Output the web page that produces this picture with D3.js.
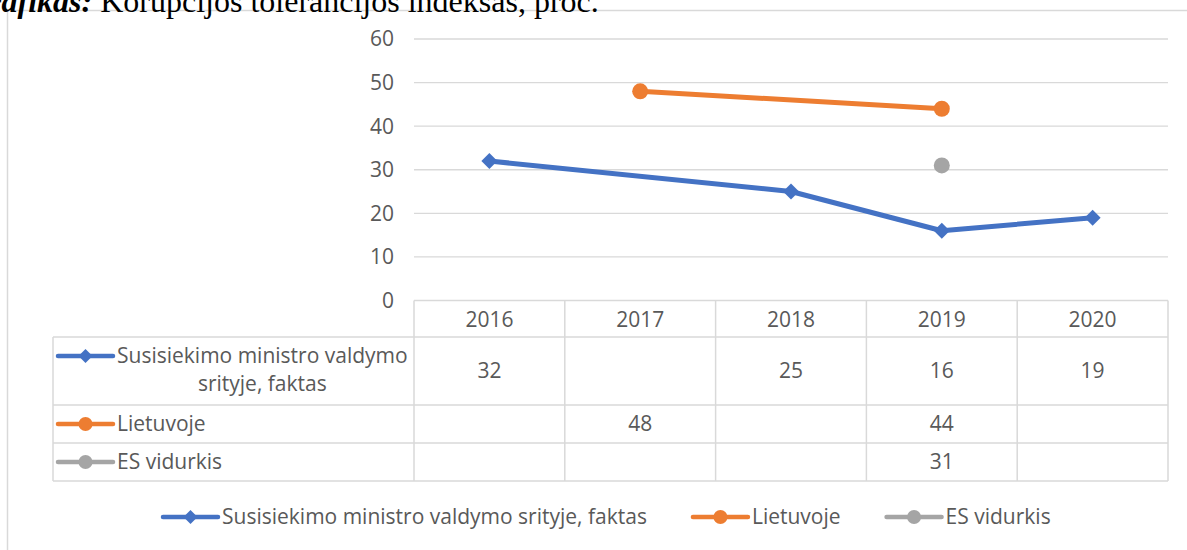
<!DOCTYPE html>
<html><head><meta charset="utf-8">
<script src="https://cdn.jsdelivr.net/npm/d3@7"></script>
<style>
html,body{margin:0;padding:0;background:#fff;}
svg{display:block;}
</style></head>
<body>
<svg id="c" width="1187" height="550"></svg>
<script>
const years = ["2016","2017","2018","2019","2020"];
const seriesNames = ["Susisiekimo ministro valdymo srityje, faktas","Lietuvoje","ES vidurkis"];
const blueValues = [32, null, 25, 16, 19];
const orangeValues = [null, 48, null, 44, null];
const grayValues = [null, null, null, 31, null];
const yTicks = [0,10,20,30,40,50,60];
const titleBold = "Grafikas:";
const titleRest = " Korupcijos tolerancijos indeksas, proc.";

const colors = ["#4472C4","#ED7D31","#A5A5A5"];
const markers = ["diamond","circle","circle"];
const series = [blueValues, orangeValues, grayValues].map((v,i)=>({name:seriesNames[i], values:v, color:colors[i], marker:markers[i]}));

const svg = d3.select("#c");
const FONT = "'Open Sans', 'Noto Sans', sans-serif";
const FS = 21;
const TXT = "#595959";
const GRID = "#d9d9d9";

// outer frame
svg.append("rect").attr("x",7.5).attr("y",10.5).attr("width",1300).attr("height",700)
  .attr("fill","none").attr("stroke",GRID).attr("stroke-width",1.5);

// title
const t = svg.append("text").attr("x",-34).attr("y",12)
  .attr("font-family","'Liberation Serif','Times New Roman',serif").attr("font-size",32).attr("fill","#000");
t.append("tspan").attr("font-weight","bold").attr("font-style","italic").text(titleBold);
t.append("tspan").text(titleRest);

const x = d3.scaleBand().domain(years).range([414,1168]);
const y = d3.scaleLinear().domain([0,60]).range([300.5,39]);

// gridlines
svg.append("g").selectAll("line").data(yTicks.filter(d=>d>0)).join("line")
  .attr("x1",414).attr("x2",1168).attr("y1",d=>y(d)).attr("y2",d=>y(d))
  .attr("stroke",GRID).attr("stroke-width",1.4);

// y axis labels
const yAxis = d3.axisLeft(y).tickValues(yTicks).tickSize(0).tickPadding(0);
const ya = svg.append("g").attr("transform","translate(394,0)").call(yAxis);
ya.select(".domain").remove();
ya.selectAll("text").attr("font-family",FONT).attr("font-size",FS).attr("fill",TXT).attr("dy","0.33em");

// table
const rowTops = [300.5, 337, 405, 443, 481];
const tableLeft = 53;
const tg = svg.append("g").attr("stroke",GRID).attr("stroke-width",1.5).attr("fill","none");
tg.append("line").attr("x1",414).attr("x2",1168).attr("y1",rowTops[0]).attr("y2",rowTops[0]);
[1,2,3,4].forEach(i=>{
  tg.append("line").attr("x1",tableLeft).attr("x2",1168).attr("y1",rowTops[i]).attr("y2",rowTops[i]);
});
const vx = years.map(yr=>x(yr)).concat([x(years[years.length-1])+x.bandwidth()]);
vx.forEach(v=>{
  tg.append("line").attr("x1",v).attr("x2",v).attr("y1",rowTops[0]).attr("y2",rowTops[4]);
});
tg.append("line").attr("x1",tableLeft).attr("x2",tableLeft).attr("y1",rowTops[1]).attr("y2",rowTops[4]);

// header text
svg.append("g").selectAll("text").data(years).join("text")
  .attr("x",d=>x(d)+x.bandwidth()/2).attr("y",(rowTops[0]+rowTops[1])/2+1).attr("dy","0.35em")
  .attr("text-anchor","middle").attr("font-family",FONT).attr("font-size",FS).attr("fill",TXT).text(d=>d);

// cell values
series.forEach((s,si)=>{
  const cy = (rowTops[si+1]+rowTops[si+2])/2;
  svg.append("g").selectAll("text").data(years.map((yr,i)=>({yr,v:s.values[i]})).filter(d=>d.v!=null)).join("text")
    .attr("x",d=>x(d.yr)+x.bandwidth()/2).attr("y",cy).attr("dy","0.35em")
    .attr("text-anchor","middle").attr("font-family",FONT).attr("font-size",FS).attr("fill",TXT).text(d=>d.v);
});

function drawMarker(g, type, cx, cy, r, color){
  if(type==="diamond"){
    g.append("path").attr("d",`M${cx},${cy-r}L${cx+r},${cy}L${cx},${cy+r}L${cx-r},${cy}Z`).attr("fill",color);
  } else {
    g.append("circle").attr("cx",cx).attr("cy",cy).attr("r",r).attr("fill",color);
  }
}
function legendSymbol(g, s, x0, cy, w){
  g.append("line").attr("x1",x0).attr("x2",x0+w).attr("y1",cy).attr("y2",cy)
    .attr("stroke",s.color).attr("stroke-width",4.5).attr("stroke-linecap","round");
  drawMarker(g, s.marker, x0+w/2, cy, 7, s.color);
}

// table row labels
const lblG = svg.append("g");
legendSymbol(lblG, series[0], 58, 356, 55);
const l1 = lblG.append("text").attr("x",117).attr("y",356).attr("dy","0.35em")
  .attr("font-family",FONT).attr("font-size",FS).attr("fill",TXT).text("Susisiekimo ministro valdymo");
const w1 = l1.node().getComputedTextLength();
lblG.append("text").attr("x",117+w1/2).attr("y",384).attr("dy","0.35em").attr("text-anchor","middle")
  .attr("font-family",FONT).attr("font-size",FS).attr("fill",TXT).text("srityje, faktas");
[1,2].forEach(si=>{
  const cy = (rowTops[si+1]+rowTops[si+2])/2;
  legendSymbol(lblG, series[si], 58, cy, 55);
  lblG.append("text").attr("x",117).attr("y",cy).attr("dy","0.35em")
    .attr("font-family",FONT).attr("font-size",FS).attr("fill",TXT).text(series[si].name);
});

// lines
const line = d3.line().x(d=>x(d.yr)+x.bandwidth()/2).y(d=>y(d.v));
series.forEach(s=>{
  const pts = years.map((yr,i)=>({yr,v:s.values[i]})).filter(d=>d.v!=null);
  const g = svg.append("g");
  if(pts.length>1){
    g.append("path").datum(pts).attr("d",line).attr("fill","none")
      .attr("stroke",s.color).attr("stroke-width",5).attr("stroke-linejoin","round").attr("stroke-linecap","round");
  }
  pts.forEach(p=>drawMarker(g, s.marker, x(p.yr)+x.bandwidth()/2, y(p.v), 8, s.color));
});

// bottom legend
const lg = svg.append("g");
let lx = 163;
const ly = 517;
series.forEach(s=>{
  legendSymbol(lg, s, lx, ly, 55);
  const tx = lg.append("text").attr("x",lx+59).attr("y",ly).attr("dy","0.35em")
    .attr("font-family",FONT).attr("font-size",FS).attr("fill",TXT).text(s.name);
  lx = lx + 59 + tx.node().getComputedTextLength() + 46;
});
</script>
</body></html>
